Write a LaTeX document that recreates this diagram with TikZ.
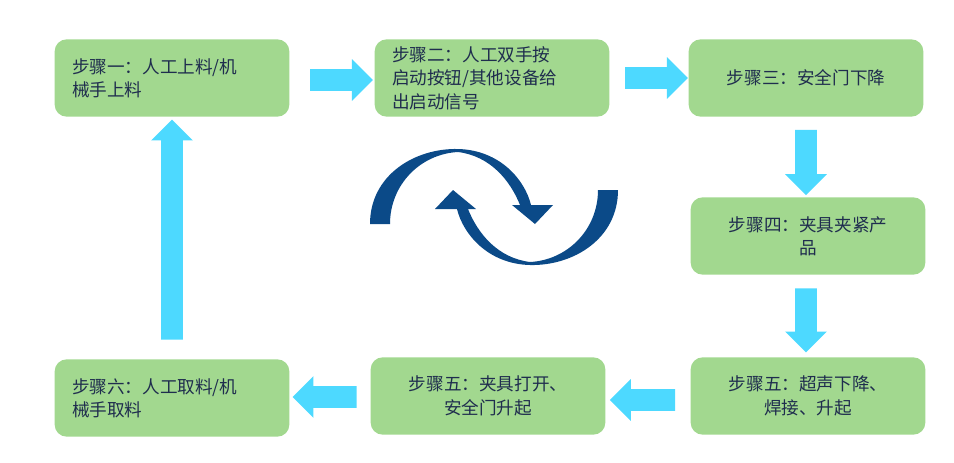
\documentclass[tikz,border=0pt]{standalone}
\usepackage{fontspec}
\newfontfamily\cjk{Noto Sans CJK SC}
\usetikzlibrary{shapes.arrows}
\definecolor{stepgreen}{HTML}{A2D88F}
\definecolor{steptext}{HTML}{1F2D4E}
\definecolor{flowblue}{HTML}{4DD9FF}
\definecolor{cycleblue}{HTML}{0B4A88}
\tikzset{
  stepbox/.style={rectangle, rounded corners=9pt, fill=stepgreen, text=steptext,
    minimum width=176pt, minimum height=58pt, text width=150pt,
    font=\cjk\fontsize{13.2}{17.5}\selectfont},
  flow/.style={single arrow, fill=flowblue, minimum width=0pt,
    single arrow head extend=7.5pt, single arrow head indent=0pt, inner sep=8pt},
}
\begin{document}
\begin{tikzpicture}[x=0.75pt,y=-0.75pt]
  \useasboundingbox (0,0) rectangle (954,462);

  \node[stepbox, align=left]   (s1) at (172,78)  {步骤一：人工上料/机\\械手上料};
  \node[stepbox, align=left]   (s2) at (492,78)  {步骤二：人工双手按\\启动按钮/其他设备给\\出启动信号};
  \node[stepbox, align=center] (s3) at (806,78)  {步骤三：安全门下降};
  \node[stepbox, align=center] (s4) at (808,236) {步骤四：夹具夹紧产\\品};
  \node[stepbox, align=center] (s5) at (808,396) {步骤五：超声下降、\\焊接、升起};
  \node[stepbox, align=center] (s6) at (488,396) {步骤五：夹具打开、\\安全门升起};
  \node[stepbox, align=left]   (s7) at (172,398) {步骤六：人工取料/机\\械手取料};

  \node[flow, minimum height=47pt]                 (a1) at (336,80)  {};
  \node[flow, minimum height=47pt]                 (a2) at (651,78)  {};
  \node[flow, minimum height=49pt, rotate=-90]     (a3) at (806,157) {};
  \node[flow, minimum height=48pt, rotate=-90]     (a4) at (806,315) {};
  \node[flow, minimum height=49pt, rotate=180]     (a5) at (648,400) {};
  \node[flow, minimum height=48pt, rotate=180]     (a6) at (330,397) {};
  \node[flow, minimum height=165pt, rotate=90]     (a7) at (172,235) {};

  % cycle symbol
  \foreach \r in {0,180}
    \fill[cycleblue, rotate around={\r:(494,207)}]
      (370,224) .. controls (370,175) and (415,148) .. (458,149)
      .. controls (500,150) and (525,180) .. (531,205)
      -- (553,205) -- (535,224) -- (512,205) -- (520,205)
      .. controls (510,180) and (490,156) .. (458,152)
      .. controls (420,154) and (390,185) .. (390,224) -- cycle;
\end{tikzpicture}
\end{document}
